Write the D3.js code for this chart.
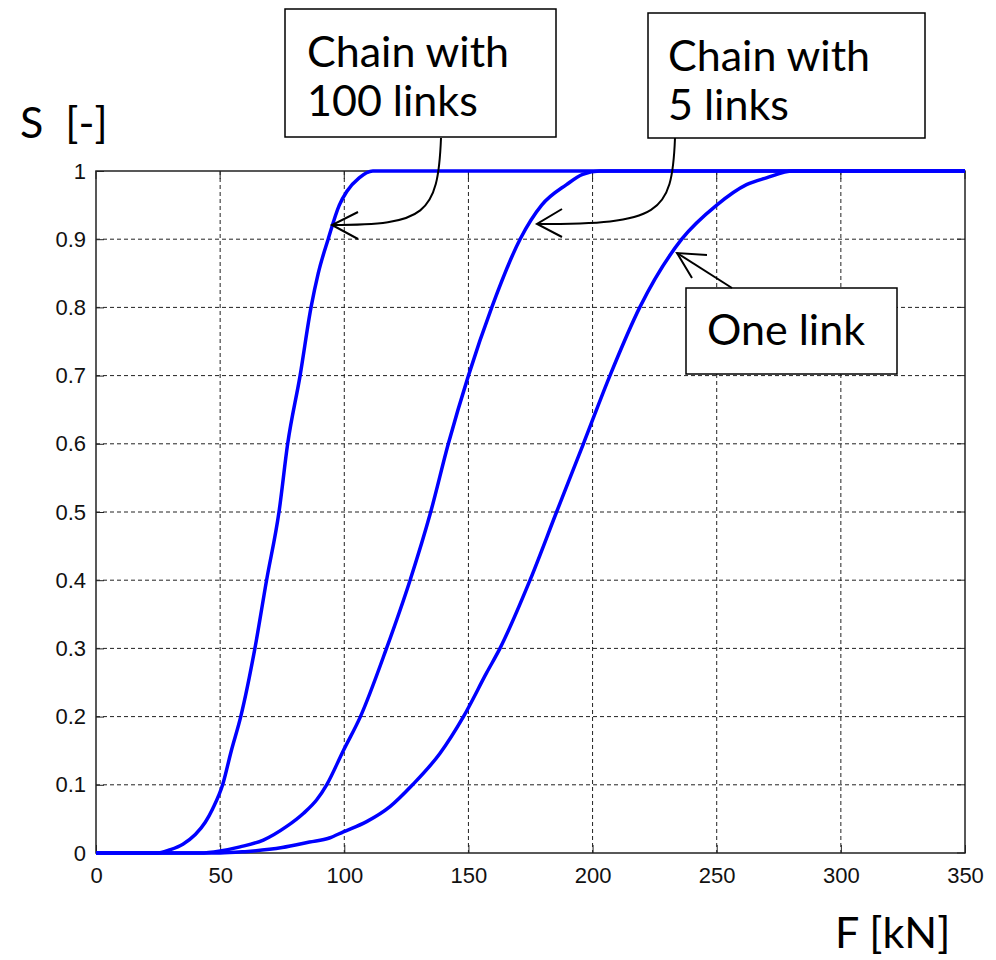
<!DOCTYPE html>
<html>
<head>
<meta charset="utf-8">
<script src="https://cdn.jsdelivr.net/npm/d3@7"></script>
<style>
  body { margin: 0; background: #fff; }
  .tick text { font-family: "Liberation Sans", Arial, sans-serif; font-size: 22px; fill: #111; }
  .note { font-family: Lato, "Noto Sans", sans-serif; font-size: 43px; fill: #000; }
</style>
</head>
<body>
<div id="chart"></div>
<script>
// curves: force F [kN] and probability S [-]
var fOne = [0, 50, 60, 75, 86, 94, 99.6, 109, 118.4, 127.5, 138.5, 148, 157.3, 162.7, 174.8, 185.5, 196.3, 207, 219, 235.9, 250, 262, 270, 280.7, 350];
var sOne = [0, 0, 0.002, 0.008, 0.016, 0.022, 0.031, 0.046, 0.068, 0.1, 0.146, 0.2, 0.264, 0.3, 0.4, 0.5, 0.6, 0.7, 0.8, 0.9, 0.95, 0.98, 0.99, 1, 1];

var fFive = [0, 42, 50, 58, 67.4, 76.8, 83.5, 88.9, 92.9, 99.6, 106.5, 117, 126.5, 134.8, 141.9, 150, 159.4, 170.8, 179.5, 189.5, 196, 203, 350];
var sFive = [0, 0, 0.003, 0.009, 0.019, 0.039, 0.058, 0.078, 0.1, 0.15, 0.2, 0.3, 0.4, 0.5, 0.6, 0.7, 0.8, 0.9, 0.95, 0.98, 0.995, 1, 1];

var fHundred = [0, 25, 30, 35, 40, 44, 47, 51, 54.5, 58.3, 64, 68.7, 73.7, 77.2, 82.2, 86.6, 89.5, 93.5, 98, 101, 106, 111.5, 350];
var sHundred = [0, 0, 0.005, 0.013, 0.027, 0.045, 0.065, 0.1, 0.15, 0.2, 0.3, 0.4, 0.5, 0.6, 0.7, 0.8, 0.85, 0.9, 0.95, 0.97, 0.99, 1, 1];

var xTicks = [0, 50, 100, 150, 200, 250, 300, 350];
var yTicks = [0, 0.1, 0.2, 0.3, 0.4, 0.5, 0.6, 0.7, 0.8, 0.9, 1];

var W = 996, H = 960;
var plot = { left: 96, right: 965, top: 171, bottom: 853 };

var svg = d3.select("#chart").append("svg")
    .attr("width", W)
    .attr("height", H);

var x = d3.scaleLinear().domain([0, 350]).range([plot.left, plot.right]);
var y = d3.scaleLinear().domain([0, 1]).range([plot.bottom, plot.top]);

// dotted grid
svg.append("g")
    .selectAll("line")
    .data(xTicks.slice(1, -1))
    .enter().append("line")
    .attr("x1", d => x(d)).attr("x2", d => x(d))
    .attr("y1", plot.top).attr("y2", plot.bottom)
    .attr("stroke", "#222").attr("stroke-width", 1)
    .attr("stroke-dasharray", "4,3");

svg.append("g")
    .selectAll("line")
    .data(yTicks.slice(1, -1))
    .enter().append("line")
    .attr("x1", plot.left).attr("x2", plot.right)
    .attr("y1", d => y(d)).attr("y2", d => y(d))
    .attr("stroke", "#222").attr("stroke-width", 1)
    .attr("stroke-dasharray", "4,3");

// axes, ticks pointing inwards
var xAxis = svg.append("g")
    .attr("transform", "translate(0," + plot.bottom + ")")
    .call(d3.axisBottom(x).tickValues(xTicks).tickSize(-8).tickPadding(14).tickFormat(d3.format("d")));
var yAxis = svg.append("g")
    .attr("transform", "translate(" + plot.left + ",0)")
    .call(d3.axisLeft(y).tickValues(yTicks).tickSize(-8).tickPadding(10).tickFormat(d => d === 0 || d === 1 ? d : d.toFixed(1)));
[xAxis, yAxis].forEach(function (a) {
    a.select(".domain").remove();
    a.selectAll("line").attr("stroke", "#222");
});
// top / right ticks like matlab
svg.append("g").selectAll("line")
    .data(xTicks).enter().append("line")
    .attr("x1", d => x(d)).attr("x2", d => x(d))
    .attr("y1", plot.top).attr("y2", plot.top + 8)
    .attr("stroke", "#222");
svg.append("g").selectAll("line")
    .data(yTicks).enter().append("line")
    .attr("x1", plot.right - 8).attr("x2", plot.right)
    .attr("y1", d => y(d)).attr("y2", d => y(d))
    .attr("stroke", "#222");

svg.append("rect")
    .attr("x", plot.left).attr("y", plot.top)
    .attr("width", plot.right - plot.left).attr("height", plot.bottom - plot.top)
    .attr("fill", "none").attr("stroke", "#222").attr("stroke-width", 1.5);

// curves
var line = d3.line()
    .x(d => x(d[0]))
    .y(d => y(d[1]))
    .curve(d3.curveMonotoneX);

[[fOne, sOne], [fFive, sFive], [fHundred, sHundred]].forEach(function (c) {
    svg.append("path")
        .datum(d3.zip(c[0], c[1]))
        .attr("d", line)
        .attr("fill", "none")
        .attr("stroke", "#0000ff")
        .attr("stroke-width", 3.5)
        .attr("stroke-linejoin", "round");
});

// axis titles
svg.append("text").attr("class", "note").attr("x", 20).attr("y", 138).text("S  [-]").style("white-space", "pre");
svg.append("text").attr("class", "note").attr("x", 835).attr("y", 948).text("F [kN]");

// callout boxes
var boxes = [
    { x: 285, y: 9, w: 271, h: 128, lines: ["Chain with", "100 links"], tx: 307 },
    { x: 648, y: 13, w: 277, h: 125, lines: ["Chain with", "5 links"], tx: 668 },
    { x: 686, y: 288, w: 211, h: 86, lines: ["One link"], tx: 707 }
];
boxes.forEach(function (b) {
    svg.append("rect")
        .attr("x", b.x).attr("y", b.y).attr("width", b.w).attr("height", b.h)
        .attr("fill", "#fff").attr("stroke", "#000").attr("stroke-width", 1.5);
    b.lines.forEach(function (t, i) {
        svg.append("text").attr("class", "note")
            .attr("x", b.tx)
            .attr("y", b.lines.length === 1 ? b.y + 57 : b.y + 58 + i * 49)
            .text(t);
    });
});

// arrows
var arrows = [
    { d: "M441,138 C438,215 425,225 332,225", tip: [332, 225], h1: [358, 212], h2: [358, 239] },
    { d: "M675,138 C672,215 660,224 537,224", tip: [537, 224], h1: [562, 209], h2: [562, 237] },
    { d: "M732,288 L677,253", tip: [677, 253], h1: [707, 255], h2: [692, 278] }
];
arrows.forEach(function (a) {
    svg.append("path").attr("d", a.d)
        .attr("fill", "none").attr("stroke", "#000").attr("stroke-width", 2);
    svg.append("path")
        .attr("d", "M" + a.h1 + "L" + a.tip + "L" + a.h2)
        .attr("fill", "none").attr("stroke", "#000").attr("stroke-width", 2);
});
</script>
</body>
</html>
